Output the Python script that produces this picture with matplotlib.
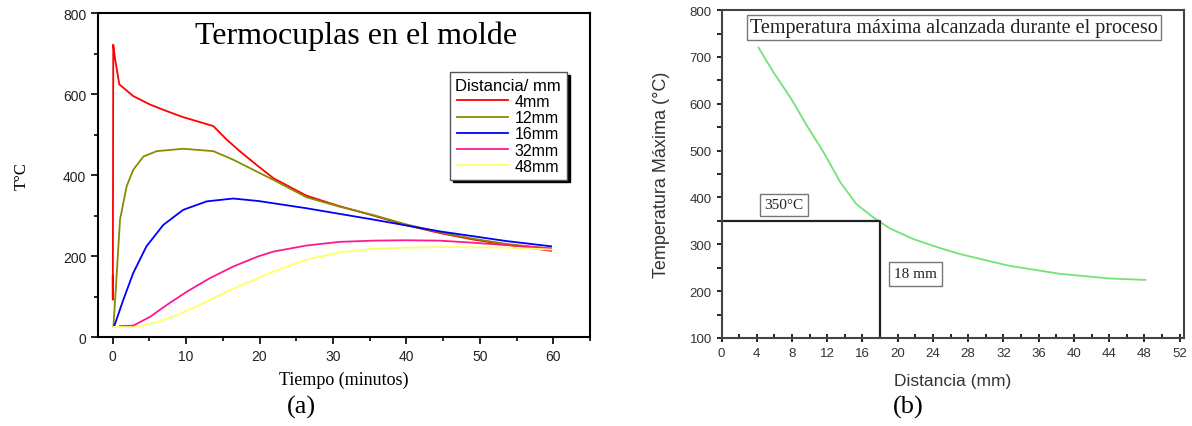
import matplotlib.pyplot as plt
from matplotlib.ticker import MultipleLocator

# (a) termocuplas en el molde: tiempo (min) vs temperatura (°C)
t_4mm = [0, 0.02, 0.08, 0.3, 0.9, 2.8, 5.1, 7.35, 9.6, 13.7, 15.5, 17.3, 19.8, 21.9, 26.4, 30.9,
         35.5, 40, 44.5, 49, 53.6, 59.7]
T_4mm = [150, 92, 722, 690, 624, 595, 574, 558, 543, 521, 488, 459, 422, 392, 349, 323,
         300, 276, 257, 241, 228, 213]

t_12mm = [0.1, 0.45, 1, 1.9, 2.8, 4.2, 6, 9.6, 13.7, 16.4, 19.8, 22, 26.4, 30.9, 35.5, 40, 44.5,
          49, 53.6, 59.7]
T_12mm = [26, 125, 290, 372, 413, 446, 459, 465, 459, 438, 407, 387, 345, 322, 301, 278, 259,
          243, 230, 218]

t_16mm = [0.2, 1.45, 2.8, 4.6, 6.9, 9.6, 12.8, 16.4, 19.8, 26.4, 35.5, 44.5, 53.6, 59.7]
T_16mm = [26, 92, 158, 224, 277, 314, 335, 342, 336, 318, 290, 261, 237, 224]

t_32mm = [1, 2.8, 5.1, 7.35, 10.1, 13.2, 16.4, 19.8, 21.9, 26.4, 30.9, 35.5, 40, 44.5, 49, 53.6, 59.7]
T_32mm = [27, 28, 50, 79, 112, 145, 174, 199, 211, 226, 235, 238, 239, 238, 233, 227, 219]

t_48mm = [0.1, 2.8, 5.5, 8.2, 11.9, 15.5, 19.8, 21.9, 26.4, 30.9, 35.5, 40, 44.5, 53.6, 59.7]
T_48mm = [25, 24, 34, 50, 79, 112, 145, 162, 191, 209, 218, 221, 222, 221, 216]

series_a = [
    ('4mm', t_4mm, T_4mm, '#ff0000'),
    ('12mm', t_12mm, T_12mm, '#8a8a00'),
    ('16mm', t_16mm, T_16mm, '#0000ff'),
    ('32mm', t_32mm, T_32mm, '#ff1a8c'),
    ('48mm', t_48mm, T_48mm, '#ffff66'),
]

# (b) temperatura maxima vs distancia
dist = [4.2, 5.9, 7.8, 9.7, 11.6, 13.5, 15.3, 17.2, 19.1, 21.8, 24.8, 27.1, 32.7, 38.4, 44.1, 48.1]
T_max = [720, 667, 614, 553, 496, 432, 386, 358, 334, 311, 292, 279, 254, 237, 227, 224]

serif = 'Liberation Serif'
sans = 'Liberation Sans'

fig = plt.figure(figsize=(11.92, 4.27), dpi=100)

# ---- (a)
ax1 = fig.add_axes([0.0822, 0.2084, 0.4128, 0.7586])
for nombre, x, y, c in series_a:
    ax1.plot(x, y, color=c, lw=1.3, label=nombre)
ax1.set_xlim(-2, 65)
ax1.set_ylim(0, 800)
ax1.xaxis.set_major_locator(MultipleLocator(10))
ax1.xaxis.set_minor_locator(MultipleLocator(5))
ax1.yaxis.set_major_locator(MultipleLocator(200))
ax1.yaxis.set_minor_locator(MultipleLocator(100))
ax1.tick_params(which='both', direction='out', top=False, right=False, width=1.2)
ax1.tick_params(which='major', length=5, labelsize=10)
ax1.tick_params(which='minor', length=3)
for lab in ax1.get_xticklabels() + ax1.get_yticklabels():
    lab.set_fontfamily(sans)
    lab.set_color('#222222')
for s in ax1.spines.values():
    s.set_linewidth(1.5)
ax1.set_xlabel('Tiempo (minutos)', fontfamily=serif, fontsize=13, labelpad=6)
ax1.set_ylabel('T°C', fontfamily=serif, fontsize=12, labelpad=24)
ax1.text(33.2, 745, 'Termocuplas en el molde', fontfamily=serif, fontsize=23,
         ha='center', va='center')
leg = ax1.legend(loc='upper left', bbox_to_anchor=(0.715, 0.818), title='Distancia/ mm',
                 prop={'family': sans, 'size': 11.5}, title_fontproperties={'family': sans, 'size': 12},
                 fancybox=False, shadow={'color': 'black', 'alpha': 1}, framealpha=1,
                 edgecolor='#555555', handlelength=3.2, handletextpad=0.4,
                 labelspacing=0.08, borderpad=0.35, borderaxespad=0)
leg.get_frame().set_linewidth(1.0)
fig.text(0.253, 0.045, '(a)', fontfamily=serif, fontsize=19, ha='center', va='center')

# ---- (b)
ax2 = fig.add_axes([0.6053, 0.2061, 0.388, 0.7679])
ax2.plot(dist, T_max, color='#74e274', lw=1.3)
ax2.plot([0, 18, 18], [350, 350, 100], color='#222222', lw=1.6)
ax2.set_xlim(0, 52.5)
ax2.set_ylim(100, 800)
ax2.xaxis.set_major_locator(MultipleLocator(4))
ax2.xaxis.set_minor_locator(MultipleLocator(2))
ax2.yaxis.set_major_locator(MultipleLocator(100))
ax2.yaxis.set_minor_locator(MultipleLocator(50))
ax2.tick_params(axis='x', which='major', direction='inout', length=6, width=1.2)
ax2.tick_params(axis='x', which='minor', direction='in', length=3, width=1.2)
ax2.tick_params(axis='y', which='both', direction='out', length=3.5, width=1.2)
ax2.tick_params(which='major', labelsize=9.5, labelcolor='#333333')
for lab in ax2.get_xticklabels() + ax2.get_yticklabels():
    lab.set_fontfamily(sans)
for s in ax2.spines.values():
    s.set_linewidth(1.5)
    s.set_color('#444444')
ax2.set_xlabel('Distancia (mm)', fontfamily=sans, fontsize=12.5, color='#333333', labelpad=10)
ax2.set_ylabel('Temperatura Máxima (°C)', fontfamily=sans, fontsize=13, color='#333333', labelpad=14)
ax2.text(26.4, 762, 'Temperatura máxima alcanzada durante el proceso', fontfamily=serif,
         fontsize=14.5, ha='center', va='center', color='#222222',
         bbox=dict(boxstyle='square,pad=0.15', fc='white', ec='#777777', lw=1))
ax2.text(7.1, 384, '350°C', fontfamily=serif, fontsize=11, ha='center', va='center',
         color='#222222', bbox=dict(boxstyle='square,pad=0.3', fc='white', ec='#777777', lw=1))
ax2.text(22, 237, '18 mm', fontfamily=serif, fontsize=11, ha='center', va='center',
         color='#222222', bbox=dict(boxstyle='square,pad=0.35', fc='white', ec='#777777', lw=1))
fig.text(0.762, 0.045, '(b)', fontfamily=serif, fontsize=19, ha='center', va='center')

fig.savefig('out.png', dpi=100)
